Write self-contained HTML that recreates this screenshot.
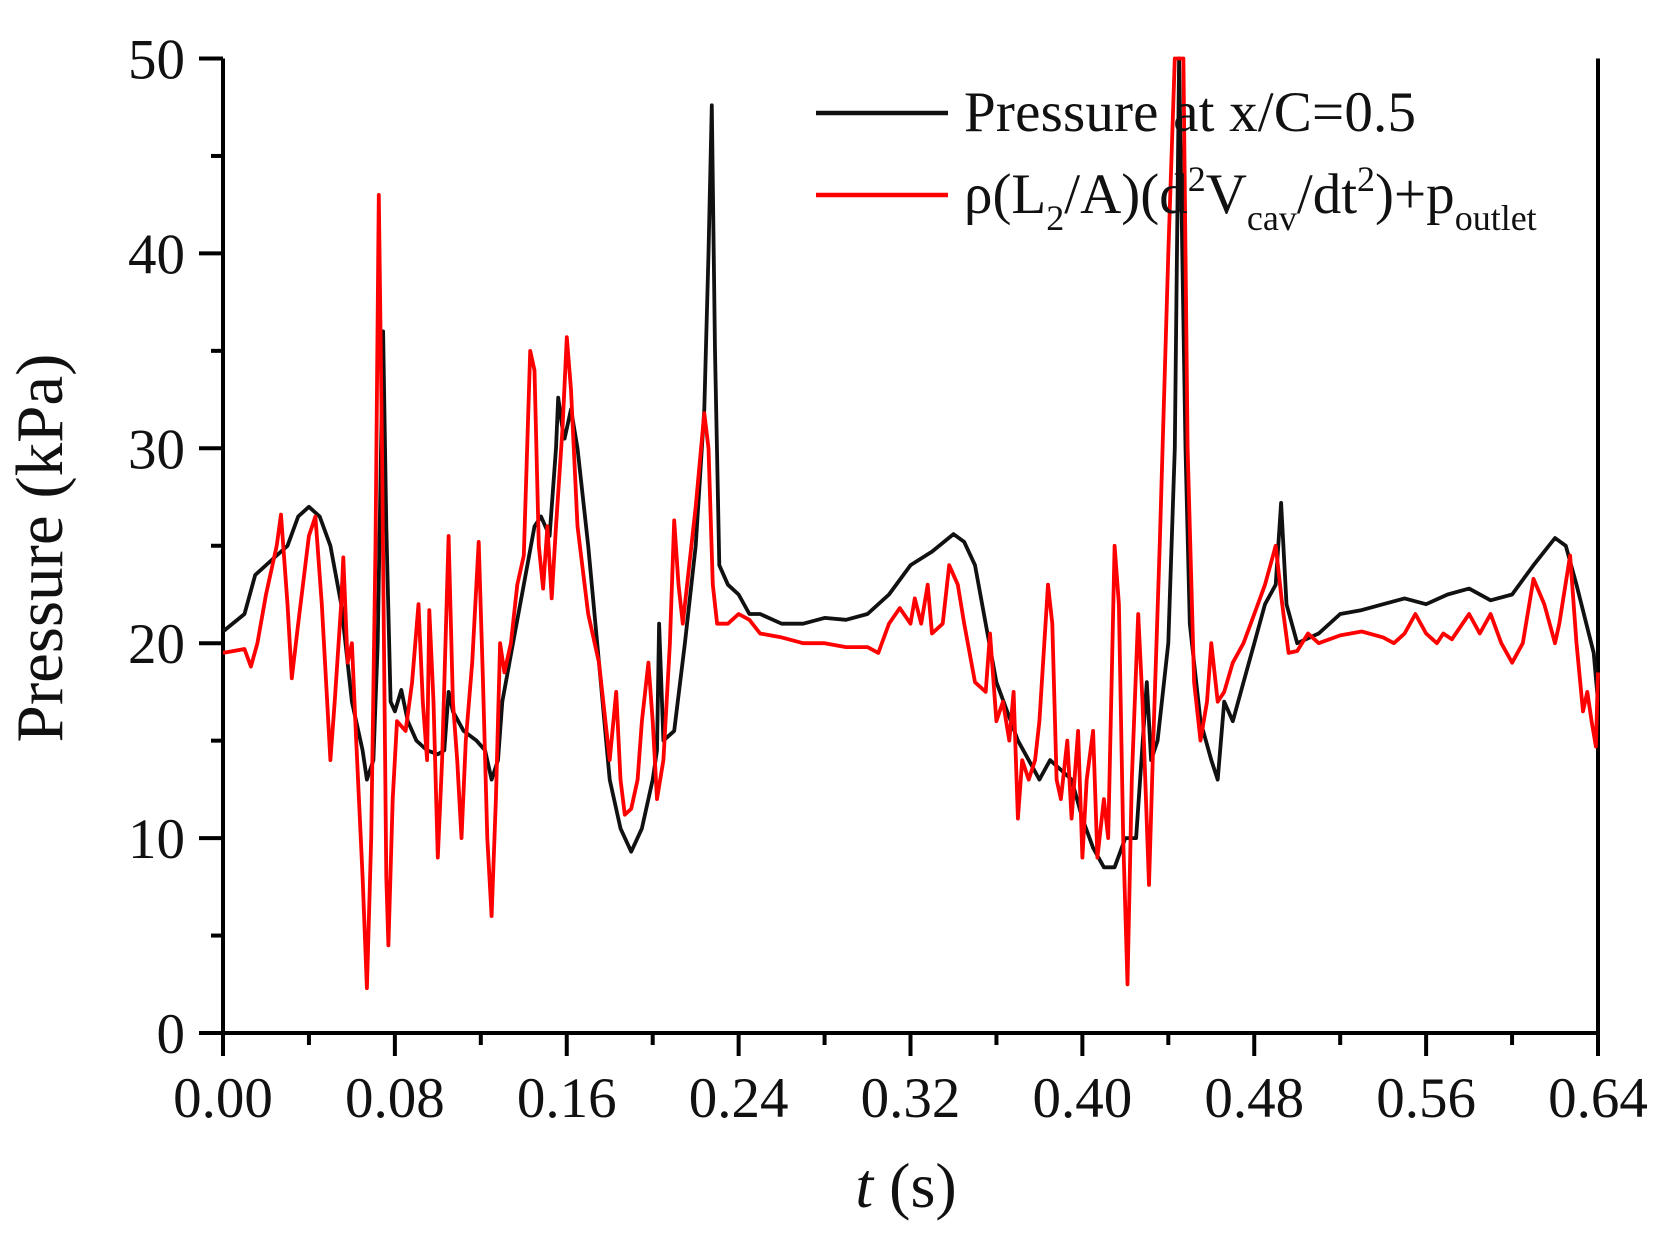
<!DOCTYPE html>
<html><head><meta charset="utf-8"><style>
html,body{margin:0;padding:0;background:#fff;}
svg{display:block;font-family:"Liberation Serif",serif;}
</style></head><body>
<svg id="s" width="1668" height="1255" viewBox="0 0 1668 1255" xmlns="http://www.w3.org/2000/svg">
<g id="ax" stroke="#000" stroke-width="4" fill="none"></g>
<g id="lab" font-size="57" fill="#111"></g>
<g id="ser" fill="none" stroke-width="3.8" stroke-linejoin="round"></g>
<line x1="816" y1="113" x2="948" y2="113" stroke="#111" stroke-width="4.5"/>
<line x1="816" y1="195" x2="948" y2="195" stroke="#f00" stroke-width="4.5"/>
<text x="964" y="131" font-size="57" fill="#111" textLength="452">Pressure at x/C=0.5</text>
<text x="964" y="213" font-size="57" fill="#111">ρ(L<tspan font-size="36" dy="17">2</tspan><tspan dy="-17">/A)(d</tspan><tspan font-size="36" dy="-22">2</tspan><tspan dy="22">V</tspan><tspan font-size="36" dy="17">cav</tspan><tspan dy="-17">/dt</tspan><tspan font-size="36" dy="-22">2</tspan><tspan dy="22">)+p</tspan><tspan font-size="36" dy="17">outlet</tspan></text>
<text transform="translate(62,548) rotate(-90)" text-anchor="middle" font-size="67" fill="#111">Pressure (kPa)</text>
<text x="906" y="1207" text-anchor="middle" font-size="64" fill="#111"><tspan font-style="italic">t</tspan> (s)</text>
</svg>
<script>
var X0=223,X1=1598,Y0=1033,YT=58.5;
function px(t){return X0+t/0.64*(X1-X0);}
function py(p){return Y0-p*(Y0-YT)/50;}
var ax=document.getElementById('ax'),lab=document.getElementById('lab'),ser=document.getElementById('ser');
var h='<line x1="'+X0+'" y1="'+YT+'" x2="'+X0+'" y2="'+(Y0+2)+'"/><line x1="'+(X0-2)+'" y1="'+Y0+'" x2="'+(X1+2)+'" y2="'+Y0+'"/><line x1="'+X1+'" y1="'+YT+'" x2="'+X1+'" y2="'+Y0+'"/>';
for(var i=0;i<=16;i++){var x=px(i*0.04);h+='<line x1="'+x+'" y1="'+Y0+'" x2="'+x+'" y2="'+(Y0+(i%2?12:23))+'"/>';}
for(var i=0;i<=10;i++){var y=py(i*5);h+='<line x1="'+X0+'" y1="'+y+'" x2="'+(X0-(i%2?12:24))+'" y2="'+y+'"/>';}
ax.innerHTML=h;
var l='';
for(var i=0;i<=8;i++){l+='<text x="'+px(i*0.08)+'" y="'+(Y0+84)+'" text-anchor="middle">'+(i*0.08).toFixed(2)+'</text>';}
for(var i=0;i<=5;i++){l+='<text x="185" y="'+(py(i*10)+20)+'" text-anchor="end">'+(i*10)+'</text>';}
lab.innerHTML=l;
var B=[0,20.6,0.01,21.5,0.015,23.5,0.025,24.5,0.03,25,0.035,26.5,0.04,27,0.045,26.5,0.05,25,0.055,22,0.06,17,0.065,14.5,0.067,13,0.07,14,0.072,20,0.0745,36,0.076,26,0.078,17,0.08,16.5,0.083,17.6,0.086,16,0.09,15,0.095,14.5,0.1,14.3,0.103,14.5,0.105,17.5,0.107,16.5,0.112,15.5,0.118,15,0.122,14.5,0.125,13,0.128,14,0.13,17,0.135,20,0.14,23,0.145,26,0.148,26.5,0.152,25.5,0.155,30,0.156,32.6,0.158,31,0.159,30.5,0.162,32,0.165,30,0.17,25,0.175,19,0.18,13,0.185,10.5,0.19,9.3,0.195,10.5,0.2,13,0.202,14.5,0.203,21,0.205,15,0.21,15.5,0.215,20,0.22,25,0.224,32,0.226,40,0.2275,47.6,0.229,35,0.231,24,0.235,23,0.24,22.5,0.245,21.5,0.25,21.5,0.26,21,0.27,21,0.28,21.3,0.29,21.2,0.3,21.5,0.31,22.5,0.32,24,0.33,24.7,0.34,25.6,0.345,25.2,0.35,24,0.355,21,0.36,18,0.365,16.5,0.37,15,0.375,14,0.38,13,0.385,14,0.39,13.5,0.395,13,0.4,11,0.405,9.5,0.41,8.5,0.415,8.5,0.42,10,0.425,10,0.43,18,0.432,14,0.435,15,0.44,20,0.443,30,0.445,50,0.448,30,0.45,21,0.455,16,0.46,14,0.463,13,0.466,17,0.47,16,0.475,18,0.48,20,0.485,22,0.49,23,0.4925,27.2,0.495,22,0.5,20,0.51,20.5,0.52,21.5,0.53,21.7,0.54,22,0.55,22.3,0.56,22,0.57,22.5,0.58,22.8,0.59,22.2,0.6,22.5,0.61,24,0.62,25.4,0.625,25,0.63,23,0.635,20.8,0.638,19.5,0.64,17];
var R=[0,19.5,0.005,19.6,0.01,19.7,0.013,18.8,0.016,20,0.02,22.5,0.025,25,0.027,26.6,0.03,22,0.032,18.2,0.035,21,0.04,25.5,0.043,26.5,0.046,22,0.048,18,0.05,14,0.052,17,0.055,22,0.056,24.4,0.058,19,0.06,20,0.062,15,0.065,8,0.067,2.3,0.069,10,0.071,25,0.0725,43,0.074,30,0.076,8,0.077,4.5,0.079,12,0.081,16,0.085,15.5,0.088,18,0.091,22,0.093,17,0.095,14,0.096,21.7,0.098,17,0.1,9,0.102,14,0.105,25.5,0.107,17,0.109,14,0.111,10,0.113,15,0.116,19,0.119,25.2,0.121,18,0.123,10,0.125,6,0.127,12,0.129,20,0.131,18.5,0.134,20,0.137,23,0.14,24.5,0.143,35,0.145,34,0.147,25,0.149,22.8,0.151,26,0.153,22.3,0.155,26,0.158,31,0.16,35.7,0.162,33,0.165,26,0.17,21.5,0.175,19,0.178,16,0.18,14,0.183,17.5,0.185,13,0.187,11.2,0.19,11.5,0.193,13,0.195,16,0.198,19,0.2,16,0.202,12,0.205,14,0.208,20,0.21,26.3,0.212,23,0.214,21,0.216,23,0.22,27,0.224,31.8,0.226,30,0.228,23,0.23,21,0.235,21,0.24,21.5,0.245,21.2,0.25,20.5,0.26,20.3,0.27,20,0.28,20,0.29,19.8,0.3,19.8,0.305,19.5,0.31,21,0.315,21.8,0.32,21,0.322,22.3,0.325,21,0.328,23,0.33,20.5,0.335,21,0.338,24,0.342,23,0.345,21,0.35,18,0.355,17.5,0.357,20.5,0.36,16,0.363,17,0.366,15,0.368,17.5,0.37,11,0.372,14,0.375,13,0.378,14,0.38,16,0.384,23,0.386,21,0.388,13,0.39,12,0.393,15,0.395,11,0.398,15.5,0.4,9,0.402,13,0.405,15.5,0.407,9,0.41,12,0.412,10,0.415,25,0.417,22,0.419,10,0.421,2.5,0.423,13,0.426,21.5,0.428,17,0.431,7.6,0.433,15,0.436,25,0.44,40,0.443,50,0.447,50,0.449,30,0.452,18,0.455,15,0.458,17,0.46,20,0.463,17,0.466,17.5,0.47,19,0.475,20,0.48,21.5,0.485,23,0.49,25,0.493,22,0.496,19.5,0.5,19.6,0.505,20.5,0.51,20,0.52,20.4,0.53,20.6,0.54,20.3,0.545,20,0.55,20.5,0.555,21.5,0.56,20.5,0.565,20,0.568,20.5,0.572,20.2,0.58,21.5,0.585,20.5,0.59,21.5,0.595,20,0.6,19,0.605,20,0.61,23.3,0.615,22,0.62,20,0.622,21,0.627,24.5,0.63,20,0.633,16.5,0.635,17.5,0.637,16,0.639,14.7,0.64,18.5];
function path(a){var d='';for(var i=0;i<a.length;i+=2){d+=(i?'L':'M')+px(a[i]).toFixed(1)+','+py(a[i+1]).toFixed(1);}return d;}
ser.innerHTML='<path d="'+path(B)+'" stroke="#111"/><path d="'+path(R)+'" stroke="#f00"/>';
</script>
</body></html>
